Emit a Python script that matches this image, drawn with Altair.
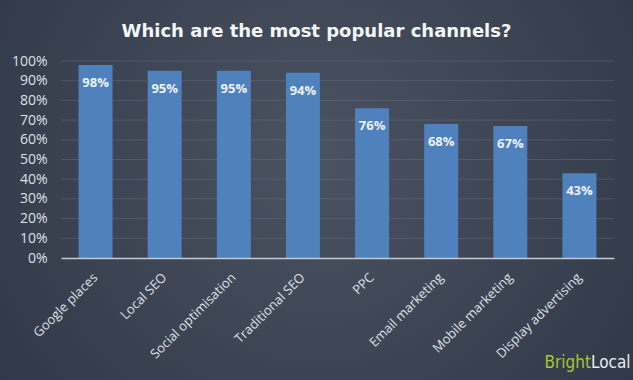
import altair as alt
import pandas as pd

channels = ["Google places", "Local SEO", "Social optimisation", "Traditional SEO",
            "PPC", "Email marketing", "Mobile marketing", "Display advertising"]
values = [98, 95, 95, 94, 76, 68, 67, 43]
title_text = "Which are the most popular channels?"
ticks = [i / 10 for i in range(11)]

df = pd.DataFrame({"channel": channels, "value": [v / 100 for v in values],
                   "label": [f"{v}%" for v in values]})

W, H = 553, 197
PL, PT, PR, PB = 61, 61, 19, 122

y_scale = alt.Scale(domain=[0, 1])
y_axis = alt.Axis(title=None, format=".0%", values=ticks,
                  labelFontSize=14, labelColor="#dde1e6", labelFont="Open Sans",
                  labelPadding=14, ticks=False, domain=False, grid=False, zindex=1,
                  labelOverlap=False, labelFlush=False)
x_scale = alt.Scale(paddingInner=0.5, paddingOuter=0.25)
x_axis = alt.Axis(title=None, labelAngle=-45, labelAlign="right", labelBaseline="middle",
                  labelPadding=17, labelFontSize=13, labelColor="#dde1e6",
                  labelFont="Open Sans", domainColor="#c5c9ce", domainWidth=1.5,
                  ticks=False, grid=False, zindex=1, labelOverlap=False)

bg = alt.Chart(alt.Data(values=[{}])).mark_rect(
    color=alt.Gradient(gradient="radial",
                       stops=[alt.GradientStop(offset=0, color="#4b5262"),
                              alt.GradientStop(offset=1, color="#2b3242")],
                       x1=0.5, y1=0.45, r1=0, x2=0.5, y2=0.45, r2=0.75),
    clip=False
).encode(x=alt.value(-PL), x2=alt.value(W + PR), y=alt.value(-PT), y2=alt.value(H + PB))

grid = alt.Chart(pd.DataFrame({"g": ticks[1:]})).mark_rule(
    color="#6a7180", opacity=0.45, strokeWidth=1
).encode(y=alt.Y("g:Q", scale=y_scale, axis=y_axis))

base = alt.Chart(df)

bars = base.mark_bar(color="#4f81bd", width=34).encode(
    x=alt.X("channel:N", sort=channels, scale=x_scale, axis=x_axis),
    y=alt.Y("value:Q", scale=y_scale, axis=y_axis),
)

bar_labels = base.mark_text(color="#eef1f5", fontSize=13, fontWeight="bold", font="Open Sans",
                            baseline="middle", dy=18).encode(
    x=alt.X("channel:N", sort=channels, scale=x_scale, axis=x_axis),
    y=alt.Y("value:Q", scale=y_scale, axis=y_axis),
    text="label:N",
)

title = alt.Chart(alt.Data(values=[{"t": title_text}])).mark_text(
    color="#f4f6f8", fontSize=18, font="DejaVu Sans", fontWeight="bold", align="center",
    baseline="middle", clip=False
).encode(x=alt.value(W / 2 - 21), y=alt.value(-29), text="t:N")

logo1 = alt.Chart(alt.Data(values=[{"t": "Bright"}])).mark_text(
    color="#a6c63a", fontSize=17, font="DejaVu Sans Condensed", align="right",
    baseline="alphabetic", clip=False
).encode(x=alt.value(530), y=alt.value(307), text="t:N")
logo2 = alt.Chart(alt.Data(values=[{"t": "Local"}])).mark_text(
    color="#e8ebee", fontSize=17, font="DejaVu Sans Condensed", align="left",
    baseline="alphabetic", clip=False
).encode(x=alt.value(530), y=alt.value(307), text="t:N")

chart = alt.layer(bg, grid, bars, bar_labels, title, logo1, logo2).properties(
    width=W, height=H,
    autosize=alt.AutoSizeParams(type="none"),
    padding={"left": PL, "top": PT, "right": PR, "bottom": PB},
    background="#333a4a",
).configure_view(stroke=None)

chart.save("out.html", embed_options={"renderer": "svg", "actions": False})
